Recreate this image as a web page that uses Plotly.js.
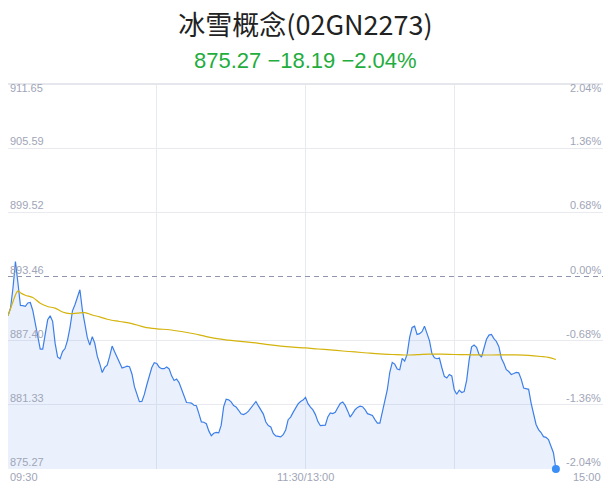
<!DOCTYPE html>
<html><head><meta charset="utf-8">
<script src="https://cdn.plot.ly/plotly-3.0.1.min.js"></script>
<style>html,body{margin:0;padding:0;background:#fff}#chart{width:611px;height:492px}</style>
</head><body><div id="chart"></div>
<script>
const chartTitle = "冰雪概念(02GN2273)";
const lastPrice = 875.27;
const change = -18.19;
const changePct = -2.04;
const prevClose = 893.46;
const yTicks = [911.65, 905.59, 899.52, 893.46, 887.40, 881.33, 875.27];
const pctTicks = ["2.04%", "1.36%", "0.68%", "0.00%", "-0.68%", "-1.36%", "-2.04%"];
const xGrid = [0, 60, 120, 180, 240];
const xTickPos = [0, 120, 240];
const xTickLabels = ["09:30", "11:30/13:00", "15:00"];
const totalMinutes = 240;

const price = [
889.76, 890.46, 892.35, 894.86, 892.87, 890.73, 890.70, 890.64, 890.96, 891.00,
890.25, 889.04, 887.75, 886.59, 886.59, 888.05, 889.37, 889.74, 889.22, 887.16,
885.86, 885.68, 886.37, 886.65, 887.43, 888.62, 890.21, 890.79, 891.50, 892.21,
890.29, 889.07, 887.68, 886.98, 887.78, 887.15, 885.94, 885.22, 884.38, 884.87,
885.08, 885.91, 886.89, 886.34, 885.79, 885.26, 884.81, 884.89, 884.99, 884.94,
884.25, 883.05, 882.24, 881.63, 881.65, 882.32, 883.23, 884.09, 884.86, 885.32,
885.24, 884.89, 884.75, 884.75, 884.90, 884.73, 884.07, 883.64, 883.78, 883.43,
882.86, 882.30, 881.55, 881.53, 881.50, 881.29, 881.25, 880.50, 879.72, 879.69,
879.55, 878.87, 878.42, 878.65, 878.73, 878.68, 879.41, 881.16, 881.86, 881.80,
881.62, 881.26, 881.13, 880.82, 880.49, 880.41, 880.53, 880.74, 881.04, 881.34,
881.65, 881.23, 880.82, 880.46, 879.71, 879.37, 879.24, 878.63, 878.40, 878.32,
878.30, 878.51, 878.96, 879.93, 880.18, 880.62, 881.05, 881.42, 881.65, 881.78,
882.04, 881.44, 881.12, 880.85, 880.41, 879.75, 879.36, 879.36, 879.42, 880.19,
880.57, 880.50, 880.62, 881.05, 881.47, 881.60, 881.28, 880.76, 880.18, 880.51,
880.87, 881.09, 881.21, 881.16, 880.89, 880.50, 880.40, 880.33, 879.94, 879.61,
879.61, 880.61, 881.55, 882.76, 884.41, 885.34, 885.18, 884.71, 884.64, 885.73,
885.46, 886.12, 887.70, 888.64, 888.77, 887.98, 888.06, 888.25, 888.77, 888.03,
887.40, 886.18, 885.77, 885.69, 885.75, 884.84, 884.03, 883.87, 884.20, 884.07,
882.76, 882.33, 882.72, 882.50, 882.58, 883.64, 885.56, 886.81, 886.99, 886.76,
886.09, 885.85, 886.68, 887.53, 887.92, 887.99, 887.59, 887.32, 886.83, 885.74,
885.26, 884.65, 884.48, 884.19, 884.29, 884.40, 884.36, 883.76, 882.92, 882.85,
882.80, 881.50, 880.40, 879.48, 878.99, 878.72, 878.33, 878.26, 878.05, 877.46,
876.81, 875.27
];

const avgMinute = [0, 2, 3, 4, 5, 7, 10, 13, 16, 19, 22, 25, 28, 31, 34, 37, 40, 45, 50, 55,
  60, 65, 70, 75, 80, 85, 90, 95, 100, 105, 110, 115, 120, 125, 130, 135, 140, 145, 150, 155,
  160, 165, 170, 175, 180, 185, 190, 195, 200, 205, 210, 215, 218, 221];
const avgPrice = [889.76, 891.07, 891.72, 892.11, 891.93, 891.69, 891.47, 890.94, 890.63, 890.47,
  890.11, 889.95, 890.00, 890.05, 889.82, 889.64, 889.42, 889.21, 889.01, 888.68,
  888.52, 888.43, 888.26, 888.05, 887.78, 887.57, 887.42, 887.30, 887.19, 887.02,
  886.88, 886.78, 886.71, 886.61, 886.52, 886.42, 886.33, 886.23, 886.14, 886.09,
  886.04, 886.07, 886.12, 886.12, 886.09, 886.07, 886.05, 886.04, 886.05, 886.05,
  886.01, 885.90, 885.81, 885.62];

const minutes = price.map((_, i) => i);
const lastIdx = minutes.length - 1;

const labelFont = {family: "Liberation Sans, Arial, sans-serif", size: 11, color: "#a0a5b7"};

const traces = [
  {x: minutes, y: price, type: "scatter", mode: "lines", fill: "tozeroy",
   fillcolor: "rgba(61,126,235,0.11)", line: {color: "#3d7fe8", width: 1.2}, hoverinfo: "skip"},
  {x: avgMinute, y: avgPrice, type: "scatter", mode: "lines", line: {color: "#d4b30c", width: 1.2, shape: "spline"}, hoverinfo: "skip"},
  {x: [minutes[lastIdx]], y: [price[lastIdx]], type: "scatter", mode: "markers",
   marker: {color: "#3a8ef6", size: 8}, hoverinfo: "skip", cliponaxis: false}
];

const annotations = [];
yTicks.forEach((v, i) => {
  const top = i === 0;
  annotations.push({xref: "x", yref: "y", x: 0, y: v, text: v.toFixed(2), showarrow: false,
    xanchor: "left", yanchor: top ? "top" : "bottom", yshift: top ? 4 : -1, font: labelFont});
  annotations.push({xref: "x", yref: "y", x: totalMinutes, y: v, text: pctTicks[i], showarrow: false,
    xanchor: "right", yanchor: top ? "top" : "bottom", yshift: top ? 4 : -1, font: labelFont});
});
xTickPos.forEach((p, i) => {
  annotations.push({xref: "x", yref: "paper", x: p, y: 0, text: xTickLabels[i], showarrow: false,
    xanchor: i === 0 ? "left" : (i === xTickPos.length - 1 ? "right" : "center"), yanchor: "top", yshift: 0, font: labelFont});
});
annotations.push({xref: "paper", yref: "paper", x: 0.5, y: 1, yshift: 24, yanchor: "middle", xanchor: "center", showarrow: false,
  text: lastPrice.toFixed(2) + " \u2212" + Math.abs(change).toFixed(2) + " \u2212" + Math.abs(changePct).toFixed(2) + "%",
  font: {family: "Liberation Sans, Arial, sans-serif", size: 22, color: "#1fad3e"}});

const gridTicks = yTicks.filter(v => v !== prevClose);

const layout = {
  width: 611, height: 492,
  margin: {l: 8, r: 8, t: 84, b: 23, pad: 0},
  paper_bgcolor: "#ffffff", plot_bgcolor: "#ffffff",
  showlegend: false,
  title: {text: chartTitle, x: 0.5, xanchor: "center", xref: "paper", yref: "container", y: 1 - 26 / 492, yanchor: "middle",
    font: {family: "Noto Sans CJK SC, sans-serif", size: 27, color: "#222222"}},
  xaxis: {range: [0, totalMinutes], tickvals: xGrid, showticklabels: false, showgrid: true,
    gridcolor: "#e9eaf0", gridwidth: 1, zeroline: false, showline: false, ticks: "", fixedrange: true},
  yaxis: {range: [yTicks[yTicks.length - 1], yTicks[0]], tickvals: gridTicks, showticklabels: false, showgrid: true,
    gridcolor: "#e9eaf0", gridwidth: 1, zeroline: false, showline: false, ticks: "", fixedrange: true},
  shapes: [
    {type: "line", xref: "paper", yref: "y", x0: 0, x1: 1, y0: prevClose, y1: prevClose,
     line: {color: "#8f95ad", width: 1, dash: "5px,4px"}},
    {type: "line", xref: "paper", yref: "paper", x0: 0, x1: 1, y0: 1, y1: 1,
     line: {color: "#e6e7ec", width: 2}}
  ],
  annotations: annotations
};

Plotly.newPlot("chart", traces, layout, {displayModeBar: false, staticPlot: true});
</script></body></html>
